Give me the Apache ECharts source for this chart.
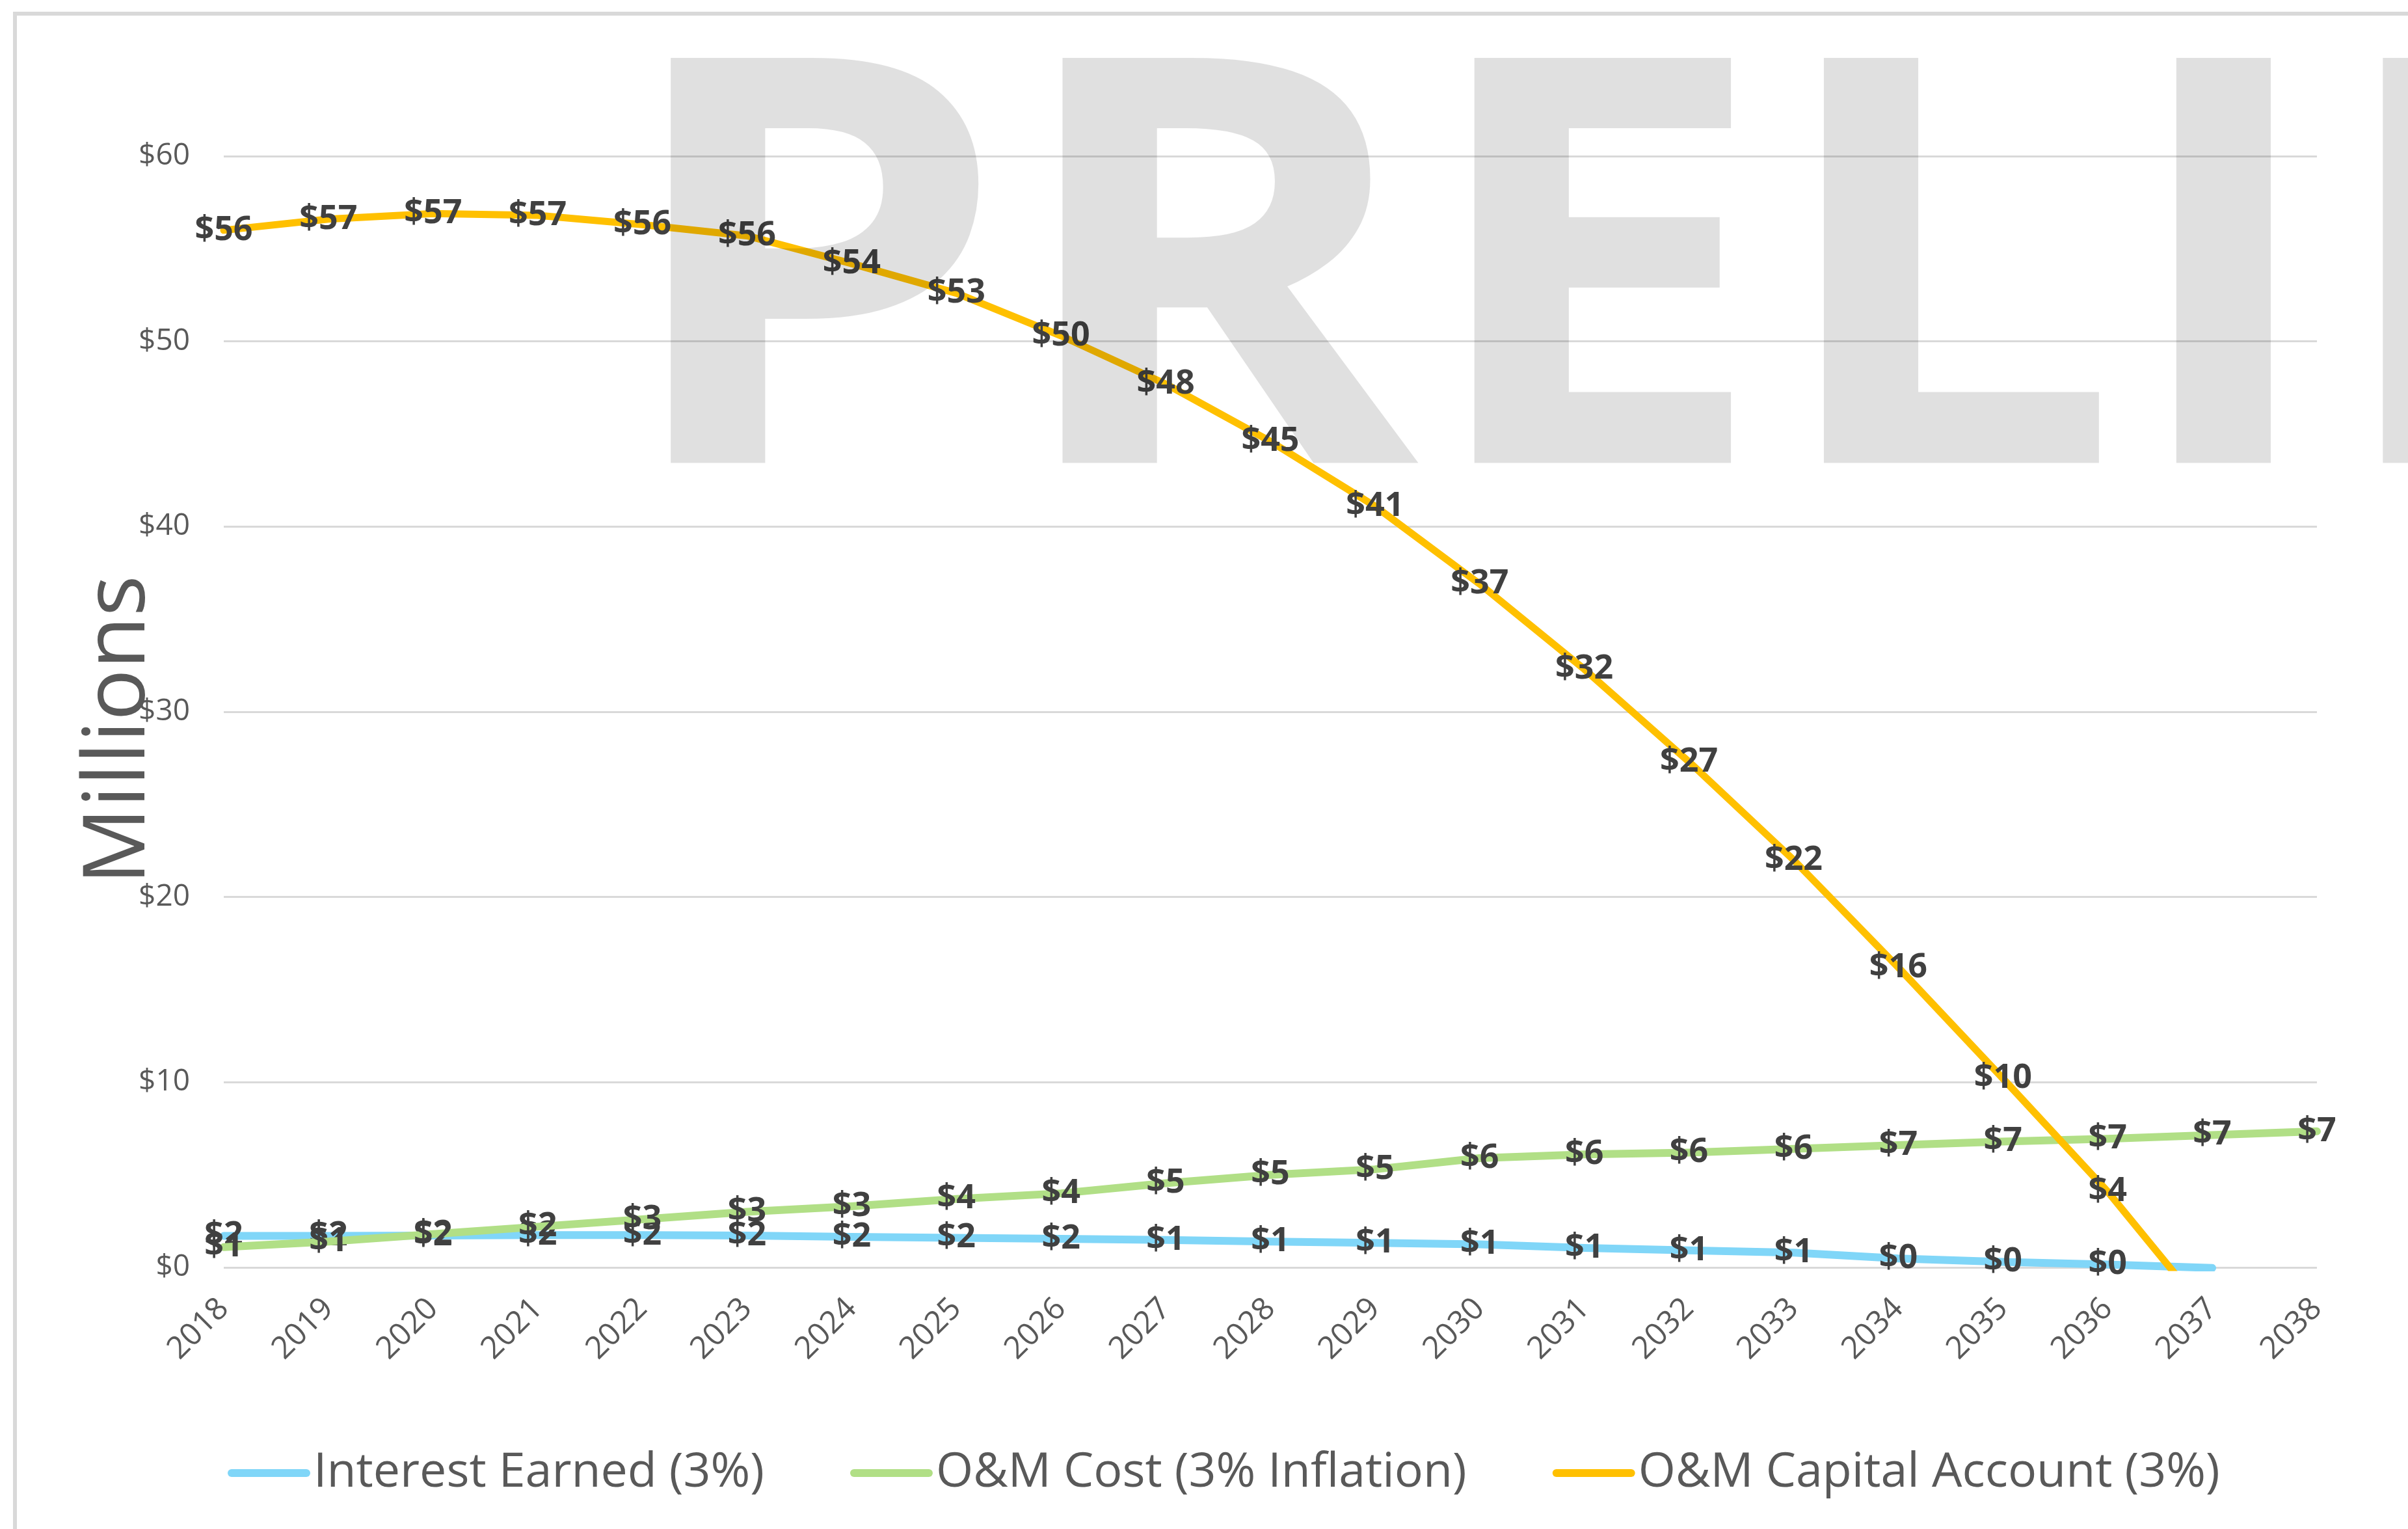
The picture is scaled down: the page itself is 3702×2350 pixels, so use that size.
<!DOCTYPE html>
<html><head><meta charset="utf-8">
<script src="https://cdn.jsdelivr.net/npm/echarts@6/dist/echarts.min.js"></script>
<style>html,body{margin:0;padding:0;background:#fff}#c{width:3702px;height:2350px}</style>
</head><body><div id="c"></div>
<script>
const years = ['2018','2019','2020','2021','2022','2023','2024','2025','2026','2027','2028','2029','2030','2031','2032','2033','2034','2035','2036','2037','2038'];
const interestEarned = [1.7, 1.7, 1.72, 1.75, 1.75, 1.72, 1.65, 1.6, 1.55, 1.48, 1.4, 1.33, 1.25, 1.05, 0.92, 0.8, 0.48, 0.3, 0.16, -0.03, null];
const omCost = [1.1, 1.4, 1.8, 2.2, 2.6, 3.0, 3.3, 3.7, 4.0, 4.55, 5.0, 5.3, 5.9, 6.1, 6.2, 6.4, 6.6, 6.8, 6.95, 7.15, 7.35];
const capitalAccount = [56.0, 56.6, 56.9, 56.8, 56.3, 55.7, 54.2, 52.6, 50.3, 47.7, 44.6, 41.1, 36.9, 32.3, 27.3, 22.0, 16.2, 10.2, 4.1, -2.8, null];
const seriesNames = ['Interest Earned (3%)', 'O&M Cost (3% Inflation)', 'O&M Capital Account (3%)'];
const yMin = 0, yMax = 60, yStep = 10;

const FONT = '"Open Sans", "Noto Sans", sans-serif';
const chart = echarts.init(document.getElementById('c'));

function lineSeries(name, data, color, width, z) {
  return {
    name: name, type: 'line', data: data, z: z,
    symbol: 'circle', symbolSize: 0.1, showAllSymbol: true,
    itemStyle: { color: color },
    lineStyle: { color: color, width: width, cap: 'round', join: 'round' },
    clip: true,
    label: {
      show: true, position: 'inside',
      formatter: p => (p.value == null || p.value < 0) ? '' : '$' + Math.round(p.value),
      fontFamily: FONT, fontWeight: 'bold', fontSize: 52, color: '#404040'
    },
    emphasis: { disabled: true }
  };
}

chart.setOption({
  backgroundColor: '#fff',
  animation: false,
  grid: { left: 344, right: 140, top: 240, bottom: 402, containLabel: false },
  xAxis: {
    type: 'category', data: years, boundaryGap: false,
    axisLine: { show: false }, axisTick: { show: false },
    axisLabel: { rotate: 45, margin: 56, fontFamily: FONT, fontSize: 48, color: '#595959', interval: 0 }
  },
  yAxis: {
    type: 'value', min: yMin, max: yMax, interval: yStep,
    axisLine: { show: false }, axisTick: { show: false },
    splitLine: { lineStyle: { color: '#d9d9d9', width: 3 } },
    axisLabel: { formatter: v => '$' + v, margin: 52, fontFamily: FONT, fontSize: 46, color: '#595959' }
  },
  legend: {
    data: seriesNames, left: 345, top: 2222, itemGap: 132,
    itemWidth: 127, itemHeight: 12,
    icon: 'path://M6,0 L121,0 A6,6 0 0 1 121,12 L6,12 A6,6 0 0 1 6,0 Z',
    textStyle: { fontFamily: FONT, fontSize: 73.5, color: '#595959' }
  },
  graphic: [
    { type: 'rect', silent: true, z: 0, shape: { x: 23, y: 21, width: 3800, height: 2450 },
      style: { fill: 'none', stroke: '#d9d9d9', lineWidth: 6 } },
    { type: 'text', silent: true, z: 1, x: 184, y: 1122, rotation: Math.PI / 2,
      style: { text: 'Millions', font: '132px ' + FONT, fill: '#595959', align: 'center', verticalAlign: 'middle' } },
    { type: 'text', silent: true, z: 100, x: 945, y: 27, scaleX: 1.1,
      style: { text: 'PRELIMINARY', font: 'bold 872px ' + FONT, fill: 'rgba(0,0,0,0.12)', verticalAlign: 'top' } }
  ],
  series: [
    lineSeries(seriesNames[0], interestEarned, '#80D6F8', 12, 2),
    lineSeries(seriesNames[1], omCost, '#B1DF86', 12, 3),
    lineSeries(seriesNames[2], capitalAccount, '#FFC000', 11, 4)
  ]
});
</script></body></html>
